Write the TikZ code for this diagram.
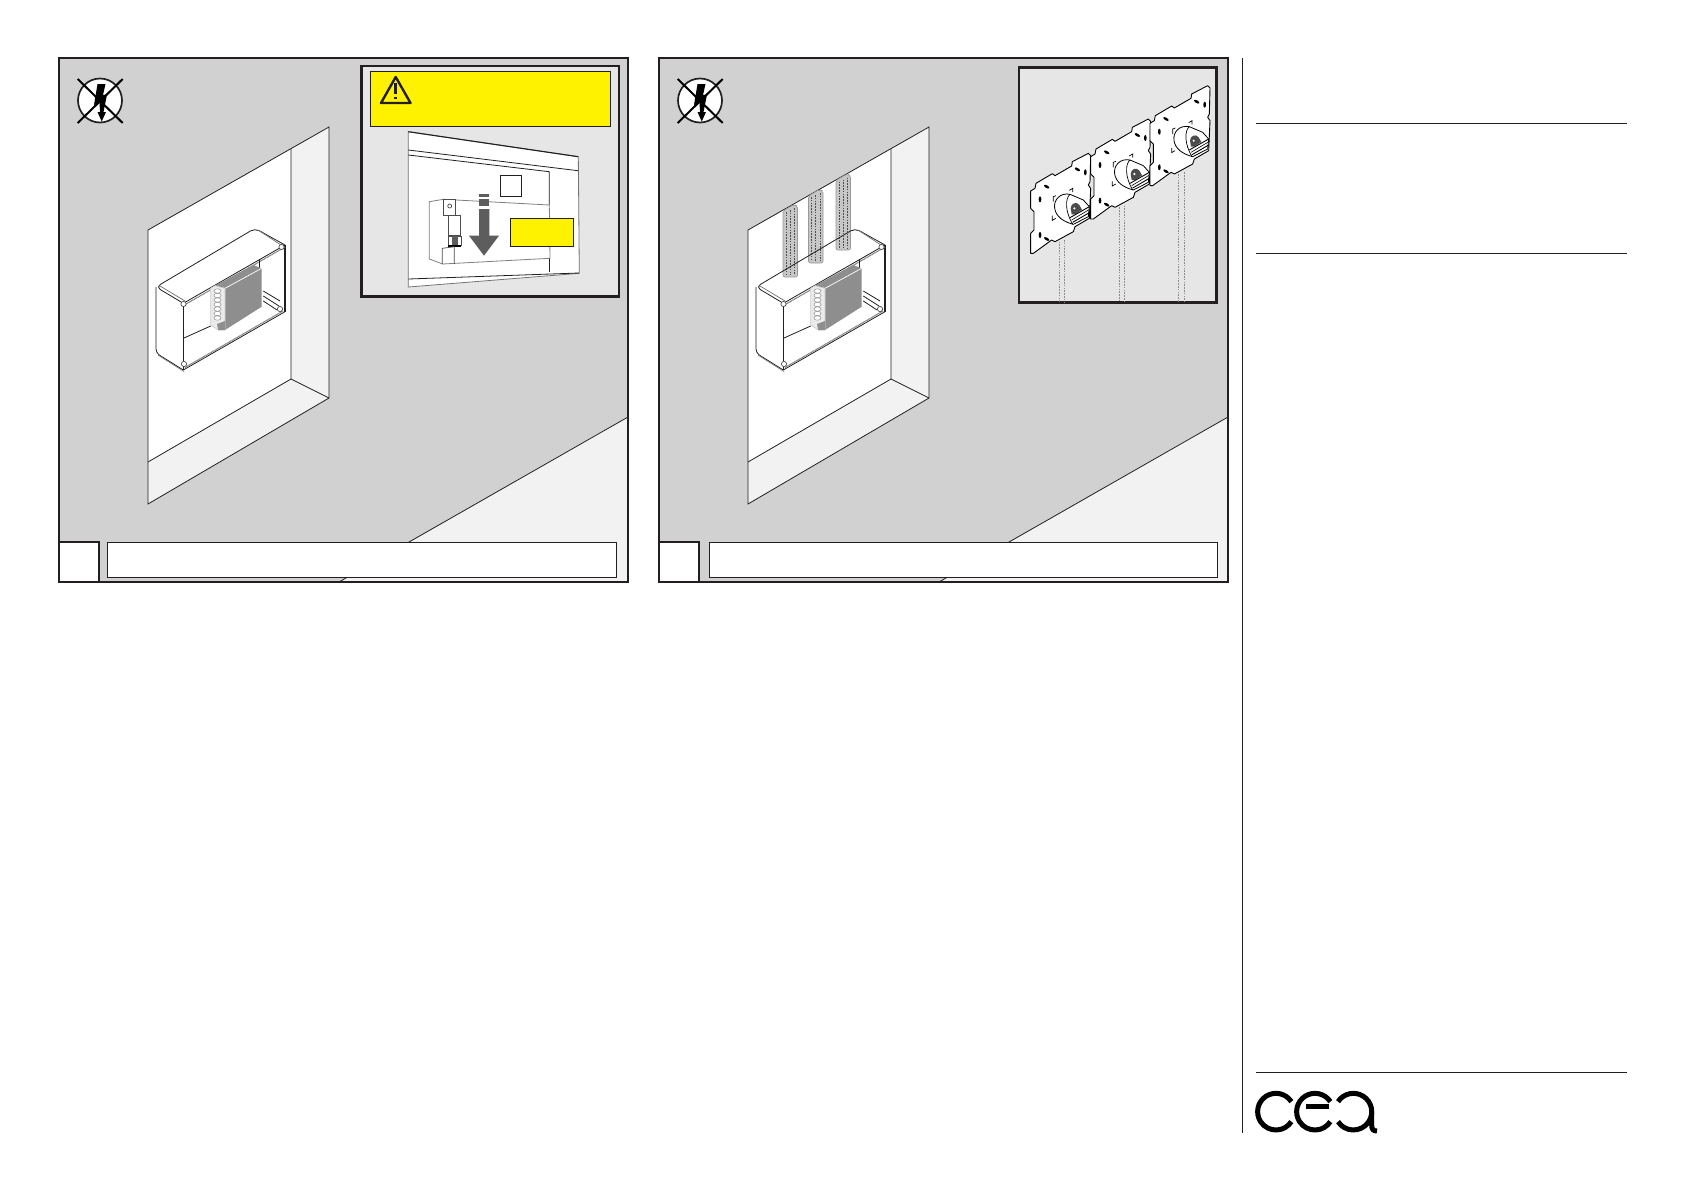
\documentclass[tikz,border=0pt]{standalone}
\usepackage{tikz}
\definecolor{wallgray}{HTML}{D1D1D1}
\definecolor{sidegray}{HTML}{F2F2F2}
\definecolor{insetgray}{HTML}{E6E6E6}
\definecolor{signyellow}{HTML}{FFF200}
\definecolor{inkblack}{HTML}{231F20}
\definecolor{arrowgray}{HTML}{5D5D5D}
\definecolor{modulegray}{HTML}{8E8E8E}
\tikzset{
  thinline/.style={draw=inkblack,line width=.8pt},
  heavyline/.style={draw=inkblack,line width=2.6pt},
  rimline/.style={draw=black!55,line width=.7pt},
  plateline/.style={draw=black,line width=.9pt,line join=round},
  tubeline/.style={draw=black!45,line width=.6pt,dash pattern=on 1.6pt off 1.2pt},
  logoline/.style={draw=black,line width=5pt},
}
\begin{document}
\begin{tikzpicture}[x=1pt,y=-1pt,line join=miter]
  \useasboundingbox[fill=white] (0,0) rectangle (1685,1192);

% the two step panels
\foreach \dx/\bx in {0/0,600/1.5} {
\begin{scope}[shift={(\dx,0)}]
    \fill[wallgray] (59,58) rectangle (628,582);
    \fill[sidegray] (628,417)--(339,582)--(628,582)--cycle;
    \draw[thinline] (628,417)--(339,582);

    % recess in the wall
    \fill[sidegray] (148,230)--(329,127)--(329,398)--(148,504)--cycle;
    \fill[white] (148,230)--(291,149)--(291,379)--(148,462)--cycle;
    \draw[thinline] (148,230)--(329,127)--(329,398)--(148,504)--cycle;
    \draw[thinline] (291,149)--(291,379)--(329,398);
    \draw[thinline] (291,379)--(148,462);

    % no voltage sign
    \draw[thinline,fill=white,line width=1.7pt] (100,100.5) circle (22);
    \fill[black] (97.5,84)--(105.5,84)--(103,95)--(107,94.5)--(103.5,112)--(106,112)--(101.7,121.5)--(97.5,112)--(100,112)--(99.5,103)--(94,105)--cycle;
    \draw[black,line width=2pt] (77.7,79)--(122.7,123);
    \draw[black,line width=2pt] (122.7,79)--(77.7,123);

    \draw[heavyline,fill=white] (59,542) rectangle (99,582);
    \draw[thinline,fill=white,line width=1pt] (107.5+\bx,542.5) rectangle (616+\bx,577);
    \draw[heavyline] (59,58) rectangle (628,582);
\end{scope}
}

% tubes behind the box, second panel
\foreach \tx/\ttop/\tbot in {783/203/277,808.5/188/263,836/172.5/250} {
    \draw[black!40,fill=black!22,line width=.7pt,rounded corners=2pt] (\tx,\ttop+8)--(\tx+11,\ttop+1.5)--(\tx+14.5,\ttop+3)--(\tx+14.5,\tbot)--(\tx,\tbot)--cycle;
    \draw[tubeline,draw=black!70] (\tx+3,\ttop+9)--(\tx+3,\tbot-2);
    \draw[tubeline,draw=black!70] (\tx+7.2,\ttop+7)--(\tx+7.2,\tbot-2);
    \draw[tubeline,draw=black!70] (\tx+11.5,\ttop+5)--(\tx+11.5,\tbot-2);
}

% junction box, both panels
\foreach \dx in {0,600} {
\begin{scope}[shift={(\dx,0)}]
    \draw[thinline,rounded corners=5pt] (183.3,303.3)--(156,287)--(255,228.3)--(285,245);
    \draw[rimline] (185,301)--(160,286);
    \draw[rimline] (258,230)--(284,247);
    \draw[thinline,rounded corners=4pt] (156,287)--(156,353)--(183.3,370);
    \draw[rimline] (158,355)--(184,371.5);
    \draw[thinline,line width=1.6pt] (183.3,303.3)--(183.3,370);
    \draw[thinline,line width=1.6pt] (285,245)--(285,311.7);
    \draw[thinline] (183.3,303.3)--(285,245);
    \draw[black!50,line width=1.2pt,dash pattern=on 1pt off .5pt] (186,304)--(285,247);
    \draw[thinline] (183.3,370)--(285,311.7);
    \draw[black!50,line width=1.2pt,dash pattern=on 1pt off .5pt] (185,367.5)--(283,311);

    % inside of the box
    \draw[thinline] (183.3,338.3)--(210.7,326);
    \draw[thinline] (259,259.3)--(259,268);
    \draw[thinline] (263.3,291)--(280,301);
    \draw[thinline] (263.3,296)--(279,306);
    \draw[thinline] (263.3,301)--(277,310);

    % module with its coils
    \fill[modulegray] (215,285.7)--(253.3,265)--(261.7,268.3)--(261.7,306.7)--(225,330)--(225,288.3)--cycle;
    \draw[white,line width=.7pt] (225,288.3)--(261.7,268.3);
    \draw[black!20,fill=black!8,line width=.7pt] (210.7,288.3)--(215,285.7)--(225,288.3)--(225,330)--(218.3,330)--(210.7,325)--cycle;
    \foreach \ky in {291,295.5,300,304.5,309,313.5,318} {
        \draw[black!45,fill=white,line width=.5pt] (217.5,\ky) ellipse (3.6 and 2.2);
    }
    \fill[modulegray] (217,324)--(225,321)--(225,330)--(218.3,330)--cycle;

    % screws
    \foreach \sx/\sy in {183.5/304,281.5/247,184/364,280/309} {
        \draw[black!70,fill=white,line width=.7pt] (\sx,\sy) circle (2.6);
    }
\end{scope}
}

% first inset
\draw[heavyline,fill=insetgray] (361.7,66) rectangle (619,296.6);
\draw[thinline,fill=signyellow,line width=1pt] (370.3,71.3) rectangle (610.4,126.3);
\draw[black!55,fill=white,line width=.8pt] (408.3,131.7)--(578.3,156.7)--(579.3,273.3)--(408.3,287)--cycle;
\draw[inkblack,line width=1.1pt] (408.3,131.7)--(578.3,156.7);
\draw[draw=inkblack,line width=2.4pt,line join=round] (395.7,77)--(381,103)--(410.5,103)--cycle;
\draw[inkblack,line width=2.6pt] (395.7,83)--(395.7,93.5);
\draw[inkblack,line width=2.6pt] (395.7,96.5)--(395.7,99.3);

\draw[thinline] (408.3,150)--(578,170.7);
\draw[thinline] (408.3,155)--(549.3,171.7)--(549.3,205);
\draw[thinline] (549.3,258)--(549.3,271.7);
\draw[thinline] (408.3,279)--(579,273);
\draw[black!50,line width=.8pt] (429.3,201.7)--(443.3,199.3)--(549.3,205)--(550,258.3)--(442.7,264)--(429.3,259)--cycle;
\draw[thinline] (500.3,175.3) rectangle (521.7,196.7);
\draw[thinline,fill=signyellow] (510.3,218.3) rectangle (573.7,246.3);

% breaker
\draw[black!70,line width=.7pt,fill=white] (443.3,199.3) rectangle (455.3,215.7);
\draw[black!70,line width=.7pt] (449.7,206) circle (2);
\draw[black!70,line width=.7pt,fill=white] (448.3,215.7) rectangle (460.7,235.7);
\draw[black!70,line width=.6pt] (448.3,236) rectangle (461.7,245);
\fill[arrowgray] (451.7,235.7) rectangle (458.3,245);
\fill[black] (448,245) rectangle (461,247);
\draw[black!70,line width=.7pt] (442.3,264)--(442.3,248.3)--(454.3,246.7)--(454.3,264);

\fill[arrowgray] (479,194.3) rectangle (489.3,196.7);
\fill[arrowgray] (479,199) rectangle (489.3,205.7);
\fill[arrowgray] (479,209)--(489.3,209)--(489.3,235.7)--(499,235.7)--(484,255.7)--(469,235.7)--(479,235.7)--cycle;

% second inset
\draw[heavyline,fill=insetgray] (1019,67.7) rectangle (1216.7,302.3);

\begin{scope}[shift={(1020,65)},scale=1/3]
\foreach \px/\py in {0/0,180/-103,358/-203} {
  \draw[tubeline] (118+\px,530+\py)--(118+\px,710);
  \draw[tubeline] (134+\px,525+\py)--(134+\px,710);
  \begin{scope}[shift={(\px,\py)}]
    \draw[plateline,fill=white] (32,378)--(45,370)--(48,355)--(97,326)--(105,332)--(155,303)--(157,290)--(205,265)--(212,272)--(210,350)--(205,360)--(212,370)--(208,460)--(165,485)--(160,500)--(105,530)--(95,525)--(40,565)--(32,565)--(32,505)--(42,495)--(42,440)--(32,430)--cycle;
    \fill[black] (60,403) ellipse (4 and 9);
    \fill[black] (60,510) ellipse (4 and 9);
    \fill[black,rotate around={-30:(80,365)}] (80,365) ellipse (9 and 4);
    \fill[black,rotate around={-30:(80,522)}] (80,522) ellipse (9 and 4);
    \fill[black,rotate around={-30:(172,313)}] (172,313) ellipse (9 and 4);
    \fill[black] (196,322) ellipse (4 and 9);
    \draw[line width=.7pt] (148,376)--(158,370)--(158,381);
    \draw[line width=.7pt] (100,410)--(100,395)--(108,392);
    \draw[line width=.7pt] (97,452)--(97,466)--(107,460);
    % cylinder and clamp
    \draw[black,line width=.8pt,fill=white] (150,388)..controls (120,382) and (100,405)..(104,430)..controls (108,455) and (130,470)..(160,478)--(205,455)--(208,425)--(190,405)--cycle;
    \draw[black,line width=.7pt] (150,388)..controls (135,400) and (135,440)..(158,478);
    \fill[black!70] (152,430)..controls (152,415) and (170,408)..(178,420)--(186,434)--(165,448)--(155,448)--cycle;
    \fill[white] (163,430) circle (3.5);
    \draw[black,line width=.9pt] (150,458)--(208,425);
    \draw[black,line width=.9pt] (158,472)--(208,443);
    \draw[black,line width=.6pt] (155,465)--(207,434);
  \end{scope}
}
\end{scope}

% side column
\draw[thinline,line width=1.2pt] (1242.3,58)--(1242.3,1133.3);
\draw[thinline,line width=1pt] (1256,123.6)--(1626.7,123.6);
\draw[thinline,line width=1pt] (1256,253.6)--(1626.7,253.6);
\draw[thinline,line width=1pt] (1256,1072.3)--(1626.7,1072.3);

% logo
\begin{scope}[shift={(1230,1060)},scale=1/3]
    \draw[logoline] (184,125) arc[start angle=33,end angle=327,radius=55pt];
    \draw[logoline] (301,125) arc[start angle=33,end angle=327,radius=55pt];
    \draw[logoline] (228,138)--(296,138);
    \draw[logoline] (324,125) arc[start angle=147,end angle=-147,radius=55pt];
    \draw[logoline] (425,155)--(425,195)..controls (425,208) and (430,213)..(441,213);
\end{scope}

  \end{tikzpicture}
\end{document}
